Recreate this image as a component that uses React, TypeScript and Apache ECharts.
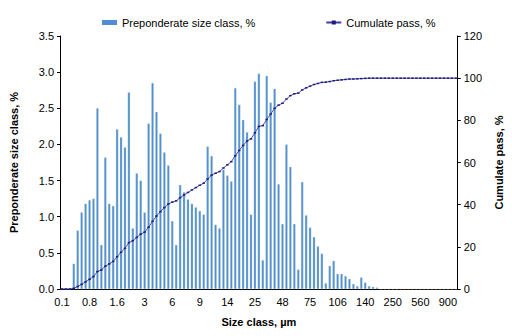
import React, { useEffect, useRef } from "react";
import * as echarts from "echarts";

// Size-class tick labels, shown on every 7th class of the 101-class scale
const sizeClassTicks = ["0.1", "0.8", "1.6", "3", "6", "9", "14", "25", "48", "75", "106", "140", "250", "560", "900"];
const CLASS_COUNT = 101;
const TICK_STEP = 7;

// Preponderate size class, % (one value per size class)
const preponderate = [
  0, 0, 0, 0.35, 0.81, 1.06, 1.18, 1.23, 1.25, 2.5,
  0.61, 1.82, 1.18, 1.15, 2.21, 2.1, 1.96, 2.72, 0.84, 1.6,
  1.5, 1.06, 2.29, 2.85, 2.45, 2.15, 1.89, 1.71, 0.94, 0.61,
  1.44, 1.34, 1.24, 1.18, 1.13, 1.08, 1.03, 1.97, 1.84, 0.89,
  0.84, 1.65, 1.57, 1.49, 2.78, 2.55, 2.34, 2.17, 1.03, 2.87,
  2.98, 0.4, 2.95, 2.58, 2.77, 1.45, 0.9, 2.0, 1.69, 0.9,
  0.27, 1.48, 1.02, 0.85, 0.72, 0.59, 0.49, 0.08, 0.32, 0.39,
  0.21, 0.21, 0.18, 0.14, 0.07, 0.04, 0.16, 0.09, 0.04, 0.03,
  0.02, 0, 0, 0, 0, 0, 0, 0, 0, 0,
  0, 0, 0, 0, 0, 0, 0, 0, 0, 0,
  0,
];

// Cumulate pass, %
const cumulatePass = [
  0, 0, 0, 0.3, 1.2, 2.2, 3.4, 4.6, 5.9, 8.3,
  9.0, 10.8, 11.9, 13.1, 15.3, 17.4, 19.3, 22.0, 22.9, 24.5,
  26.0, 27.0, 29.3, 32.1, 34.6, 36.7, 38.6, 40.3, 41.2, 41.8,
  43.3, 44.6, 45.8, 47.0, 48.1, 49.2, 50.2, 52.2, 54.0, 54.9,
  55.7, 57.4, 58.9, 60.4, 63.2, 65.7, 68.1, 70.2, 71.2, 74.1,
  77.1, 77.5, 80.4, 83.0, 85.7, 87.2, 88.1, 90.1, 91.7, 92.6,
  92.9, 94.4, 95.4, 96.2, 97.0, 97.5, 98.0, 98.1, 98.4, 98.8,
  99.0, 99.2, 99.4, 99.6, 99.6, 99.7, 99.8, 99.9, 100, 100,
  100, 100, 100, 100, 100, 100, 100, 100, 100, 100,
  100, 100, 100, 100, 100, 100, 100, 100, 100, 100,
  100,
];

const FONT = "'Liberation Sans', Arial, sans-serif";

export default function App() {
  const ref = useRef<HTMLDivElement>(null);

  useEffect(() => {
    document.body.style.margin = "0";
    if (!ref.current) return;
    const chart = echarts.init(ref.current, undefined, { renderer: "svg" });

    const categories = Array.from({ length: CLASS_COUNT }, (_, i) =>
      i % TICK_STEP === 0 && sizeClassTicks[i / TICK_STEP] !== undefined ? sizeClassTicks[i / TICK_STEP] : ""
    );

    const axisText = { color: "#000", fontSize: 11, fontFamily: FONT };
    const titleText = { color: "#000", fontSize: 11, fontWeight: "bold" as const, fontFamily: FONT };

    chart.setOption({
      animation: false,
      textStyle: { fontFamily: FONT },
      legend: {
        top: 12,
        left: 97,
        itemGap: 70,
        itemWidth: 15,
        itemHeight: 5,
        textStyle: { color: "#000", fontSize: 11, fontFamily: FONT },
        data: [
          { name: "Preponderate size class, %", icon: "rect", itemStyle: { borderWidth: 0 } },
          { name: "Cumulate pass, %" },
        ],
      },
      grid: { left: 55, right: 48, top: 36, bottom: 47, containLabel: false },
      xAxis: {
        type: "category",
        data: categories,
        boundaryGap: true,
        name: "Size class, µm",
        nameLocation: "middle",
        nameGap: 27,
        nameTextStyle: titleText,
        axisLine: { lineStyle: { color: "#000", width: 1 } },
        axisTick: { interval: 0, length: 3, lineStyle: { color: "#000" } },
        axisLabel: { ...axisText, interval: TICK_STEP - 1, margin: 7 },
        splitLine: { show: false },
      },
      yAxis: [
        {
          type: "value",
          min: 0,
          max: 3.5,
          interval: 0.5,
          name: "Preponderate size class, %",
          nameLocation: "middle",
          nameRotate: 90,
          nameGap: 41,
          nameTextStyle: titleText,
          axisLine: { show: true, lineStyle: { color: "#000", width: 1 } },
          axisTick: { show: true, length: 3, lineStyle: { color: "#000" } },
          axisLabel: { ...axisText, margin: 6, formatter: (v: number) => v.toFixed(1) },
          splitLine: { show: false },
        },
        {
          type: "value",
          min: 0,
          max: 120,
          interval: 20,
          name: "Cumulate pass, %",
          nameLocation: "middle",
          nameRotate: 90,
          nameGap: 34,
          nameTextStyle: titleText,
          axisLine: { show: true, lineStyle: { color: "#000", width: 1 } },
          axisTick: { show: true, length: 3, lineStyle: { color: "#000" } },
          axisLabel: { ...axisText, margin: 6 },
          splitLine: { show: false },
        },
      ],
      series: [
        {
          name: "Preponderate size class, %",
          type: "bar",
          yAxisIndex: 0,
          data: preponderate,
          barWidth: 2.4,
          itemStyle: { color: "#4F8ED6", borderColor: "#DCE8C8", borderWidth: 0.3 },
        },
        {
          name: "Cumulate pass, %",
          type: "line",
          yAxisIndex: 1,
          data: cumulatePass,
          symbol: "rect",
          symbolSize: [2.5, 1.5],
          showAllSymbol: true,
          lineStyle: { color: "#3C3CA6", width: 0.9 },
          itemStyle: { color: "#1F1A7A" },
        },
      ],
    });

    return () => chart.dispose();
  }, []);

  return <div ref={ref} style={{ width: 512, height: 336 }} />;
}
